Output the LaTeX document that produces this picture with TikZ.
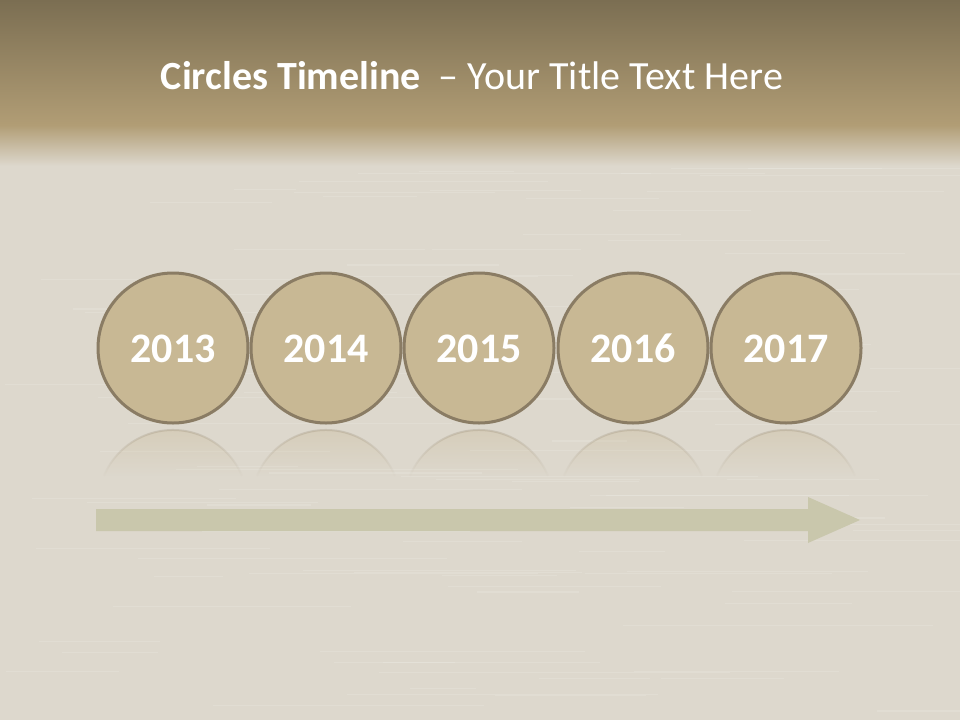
\documentclass[tikz,border=0pt]{standalone}
\usepackage{fontspec}
\setmainfont{Carlito}
\usetikzlibrary{positioning,fadings}
\definecolor{bandtop}{HTML}{7B6E52}
\definecolor{bandlow}{HTML}{B19D75}
\definecolor{woodbg}{HTML}{DDD8CD}
\definecolor{yearfill}{HTML}{C8B894}
\definecolor{yearline}{HTML}{8A7C64}
\definecolor{arrowfill}{HTML}{C9C7AC}
\begin{document}
\begin{tikzpicture}[x=1pt,y=-1pt,
  year/.style={circle,draw=yearline,line width=3pt,fill=yearfill,minimum size=150pt,
    inner sep=0pt,text=white,text height=28pt,text depth=0pt,
    font=\bfseries\fontsize{42}{42}\selectfont},
  mirror/.style={fill=yearfill,fill opacity=0.4,path fading=south},
  mirrorline/.style={draw=yearline,line width=2pt,draw opacity=0.3,path fading=south}]
  \useasboundingbox (0,0) rectangle (960,720);
  % background and title band
  \fill[woodbg] (0,0) rectangle (960,720);
  \pgfmathsetseed{11}
  \foreach \i in {1,...,110} {
    \pgfmathsetmacro\yy{165+rnd*555}
    \pgfmathsetmacro\xa{rnd*900}
    \pgfmathsetmacro\xb{\xa+60+rnd*300}
    \draw[white,opacity=0.13,line width=1.2pt] (\xa,\yy) -- (\xb,\yy);
  }
  \shade[top color=bandtop,bottom color=bandlow] (0,0) rectangle (960,125);
  \shade[top color=bandlow,bottom color=woodbg] (0,125) rectangle (960,166);
  \node[text=white,font=\fontsize{40}{40}\selectfont] (title) at (472,76)
    {\textbf{Circles Timeline}\ \ – Your Title Text Here};
  % circles and reflections
  \foreach \yr/\cx in {2013/173,2014/326,2015/479,2016/633,2017/786} {
    \fill[mirror] (\cx-69.2,476) arc[start angle=202.75,end angle=337.25,radius=75] -- cycle;
    \draw[mirrorline] (\cx-69.2,476) arc[start angle=202.75,end angle=337.25,radius=75];
    \node[year] (c\yr) at (\cx,348) {\yr};
  }
  % arrow
  \fill[arrowfill] (96,509) -- (808,509) -- (808,497) -- (860,520)
    -- (808,543) -- (808,531) -- (96,531) -- cycle;
\end{tikzpicture}
\end{document}
